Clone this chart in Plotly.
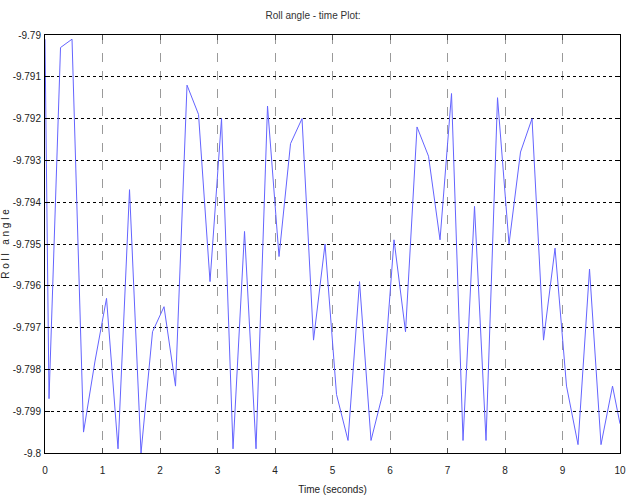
import plotly.graph_objects as go

time_s = [0.0, 0.07, 0.27, 0.47, 0.67, 0.87, 1.07, 1.27, 1.47, 1.67, 1.87,
          2.07, 2.27, 2.47, 2.67, 2.87, 3.07, 3.27, 3.47, 3.67, 3.87,
          4.07, 4.27, 4.47, 4.67, 4.87, 5.07, 5.27, 5.47, 5.67, 5.87,
          6.07, 6.27, 6.47, 6.67, 6.87, 7.07, 7.27, 7.47, 7.67, 7.87,
          8.07, 8.27, 8.47, 8.67, 8.87, 9.07, 9.27, 9.47, 9.67, 9.87, 10.0]
roll = [-9.7901, -9.7987, -9.7903, -9.7901, -9.7995, -9.7978, -9.7963, -9.7999, -9.7937, -9.8000, -9.7971,
        -9.7965, -9.7984, -9.7912, -9.7919, -9.7959, -9.7920, -9.7999, -9.7947, -9.7999, -9.7917,
        -9.7953, -9.7926, -9.7920, -9.7973, -9.7950, -9.7986, -9.7997, -9.7959, -9.7997, -9.7986,
        -9.7949, -9.7971, -9.7922, -9.7929, -9.7949, -9.7914, -9.7997, -9.7941, -9.7997, -9.7915,
        -9.7950, -9.7928, -9.7920, -9.7973, -9.7951, -9.7984, -9.7998, -9.7956, -9.7998, -9.7984, -9.7993]

x_ticks = [0, 1, 2, 3, 4, 5, 6, 7, 8, 9, 10]
y_ticks = [-9.79, -9.791, -9.792, -9.793, -9.794, -9.795, -9.796, -9.797, -9.798, -9.799, -9.8]
y_labels = ["-9.79", "-9.791", "-9.792", "-9.793", "-9.794", "-9.795", "-9.796", "-9.797", "-9.798", "-9.799", "-9.8"]

FONT = "Liberation Sans Narrow, Arial Narrow, Liberation Sans, sans-serif"

fig = go.Figure()
fig.add_trace(go.Scatter(x=time_s, y=roll, mode="lines",
                         line=dict(color="rgb(100,100,255)", width=1)))

fig.update_layout(
    width=626, height=498,
    margin=dict(l=45, r=6, t=35, b=45),
    paper_bgcolor="white", plot_bgcolor="white",
    showlegend=False,
    font=dict(family=FONT, size=10, color="#222"),
    title=dict(text="Roll angle - time Plot:", x=0.5, xanchor="center",
               y=0.975, yanchor="top", font=dict(family=FONT, size=10, color="#333")),
)
fig.update_xaxes(range=[0, 10], tickvals=x_ticks, ticks="inside", ticklen=5,
                 tickcolor="#555", automargin=False,
                 showline=True, linecolor="black", linewidth=1, mirror="ticks",
                 showgrid=True, gridcolor="#9a9a9a", griddash="dash", gridwidth=1,
                 zeroline=False, ticklabeloverflow="allow", ticklabelstandoff=8,
                 title=dict(text="Time (seconds)", standoff=10, font=dict(size=10)),
                 tickfont=dict(size=10))
fig.update_yaxes(range=[-9.8, -9.79], tickvals=y_ticks, ticktext=y_labels,
                 ticks="inside", ticklen=5, tickcolor="black", automargin=False,
                 showline=True, linecolor="black", linewidth=1, mirror="ticks",
                 showgrid=True, gridcolor="black", griddash="dot", gridwidth=1,
                 zeroline=False, ticklabelstandoff=1,
                 title=dict(text="R o l l   a n g l e", standoff=4, font=dict(size=10)),
                 tickfont=dict(size=10))

fig.write_html("out.html")
